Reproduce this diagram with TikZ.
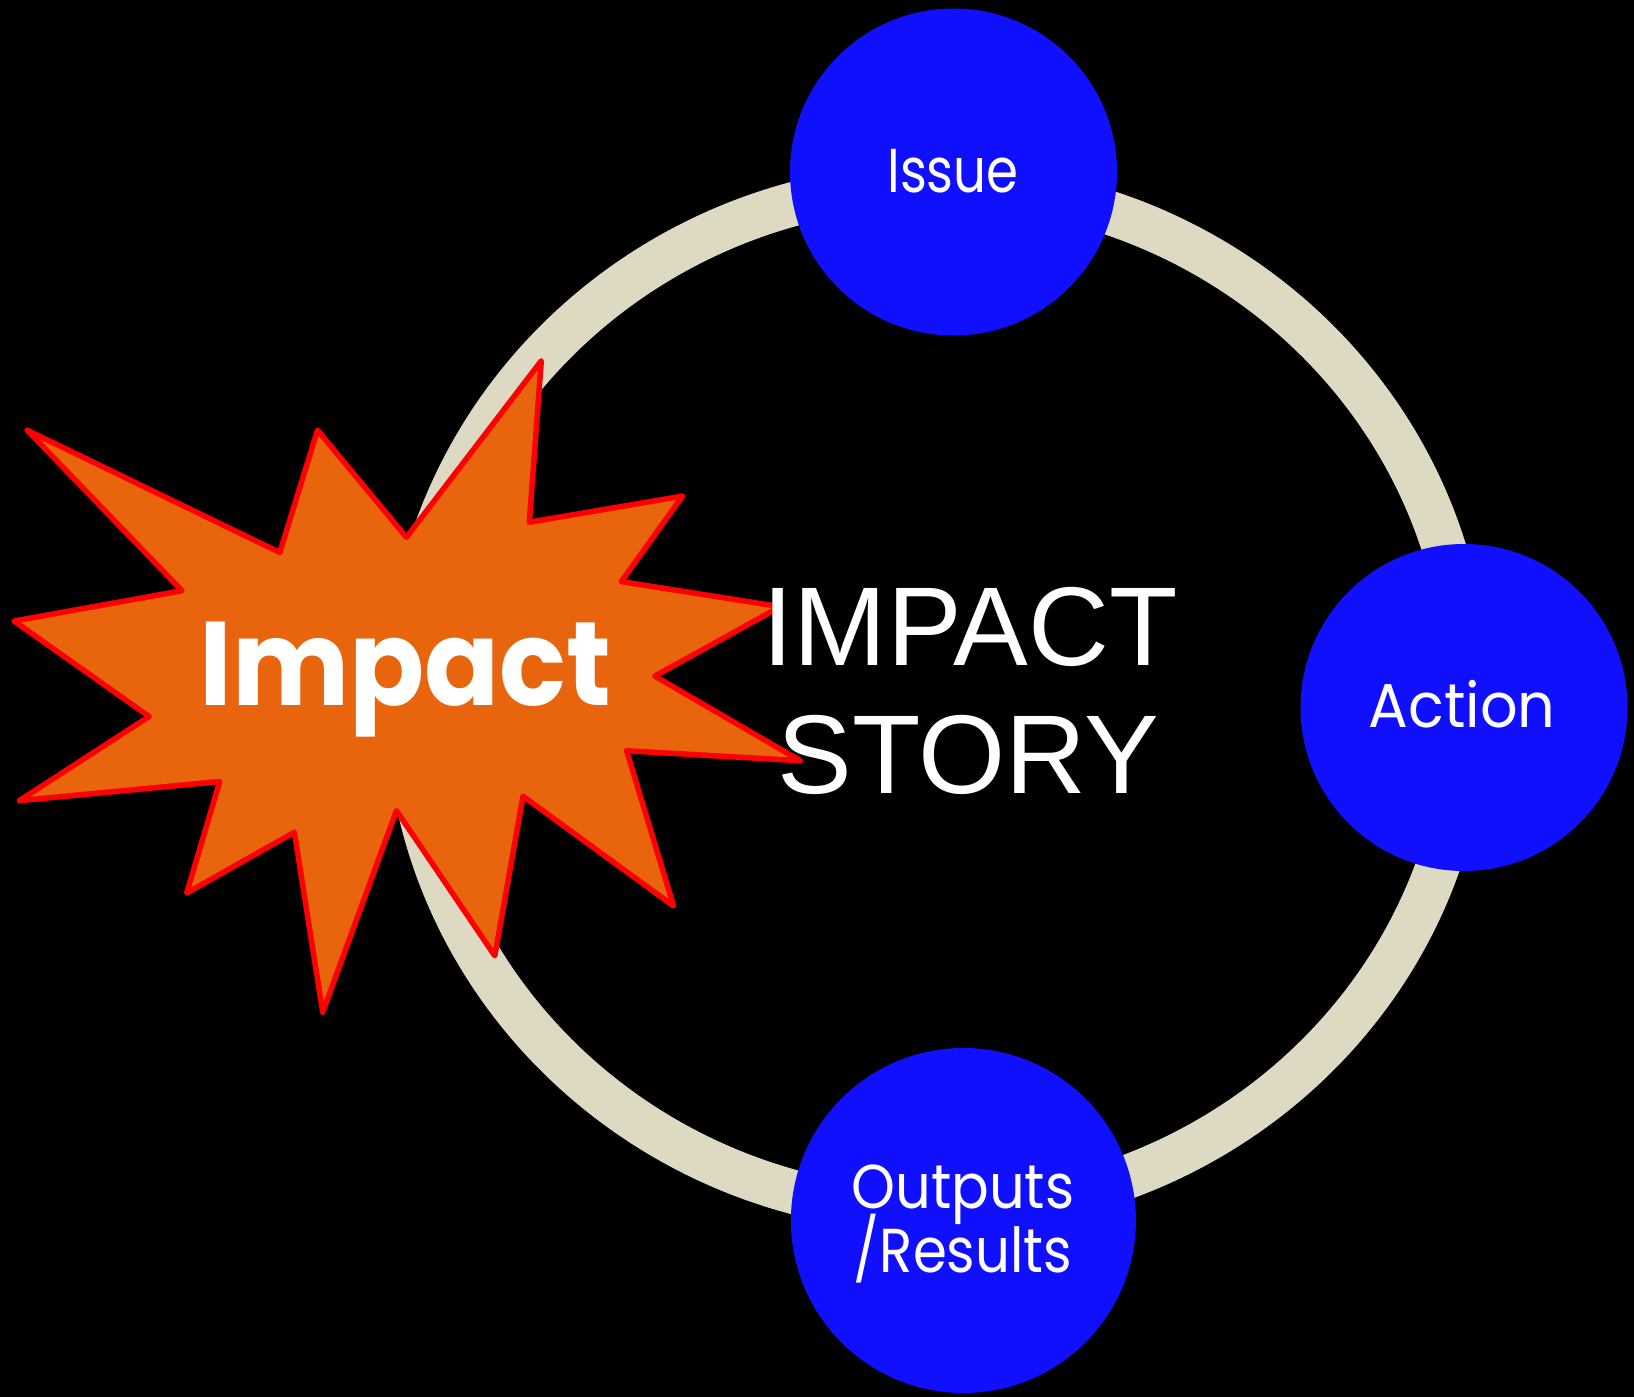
\documentclass[tikz,border=0pt]{standalone}
\usepackage{fontspec}
\usepackage{graphicx}
\newfontfamily\popfont{Poppins}
\newfontfamily\arialfont{Liberation Sans}
\definecolor{ringc}{HTML}{DDD9C3}
\definecolor{bluec}{HTML}{1010FF}
\definecolor{starfill}{HTML}{E8650E}
\definecolor{starline}{HTML}{FF0000}
\begin{document}
\begin{tikzpicture}[x=1pt,y=-1pt,
  bubble/.style={circle, fill=bluec, draw=none, inner sep=0pt},
  ctext/.style={text=white, inner sep=0pt, anchor=base, font=\popfont\fontsize{62}{64}\selectfont},
  bigtext/.style={text=white, inner sep=0pt, anchor=base, font=\arialfont\fontsize{112}{128}\selectfont},
  burst/.style={fill=starfill, draw=starline, line width=5.5pt, line join=round}]
\fill[black] (0,0) rectangle (1634,1397);
\useasboundingbox (0,0) rectangle (1634,1397);
% ring
\coordinate (ringc) at (937,698);
\draw[ringc, line width=44pt] (ringc) ellipse [x radius=530pt, y radius=513pt];
% bubbles
\node[bubble, minimum size=327pt] (issue) at (953.5,172) {};
\node[bubble, minimum size=327pt] (action) at (1464,707.5) {};
\node[bubble, minimum size=345pt] (outputs) at (963.4,1220.5) {};
\node[ctext] (issuet) at (953,192) {\scalebox{0.83}[1]{Issue}};
\node[ctext] (actiont) at (1462,727) {\scalebox{0.95}[1]{Action}};
\node[ctext] (outputst) at (963,1208) {\scalebox{0.9}[1]{Outputs}};
\node[ctext] (resultst) at (963,1272) {\scalebox{0.88}[1]{/Results}};
% starburst
\draw[burst] (27.2,430.2) -- (279.8,552.5) -- (317.5,430.2) -- (406.4,537.3)
  -- (541.3,360.8) -- (529.3,522.2) -- (682.5,496.1) -- (621.3,581.6)
  -- (780.3,606.7) -- (654.8,676.1) -- (800.2,760.7) -- (626.6,750.7)
  -- (673.6,906.0) -- (523,796.2) -- (494.8,955.8) -- (396.4,810.6)
  -- (322.7,1012.2) -- (294.4,832.2) -- (186.7,893.0) -- (219.7,781.5)
  -- (19.4,800.6) -- (149.1,716.5) -- (14.1,621.0) -- (182,590.7) -- cycle;
\node[text=white, inner sep=0pt, anchor=base, font=\popfont\bfseries\fontsize{119}{121}\selectfont] (impactt) at (405.6,705.6) {\scalebox{0.93}[1]{Impact}};
% title
\node[bigtext] (title1) at (970,665) {IMPACT};
\node[bigtext] (title2) at (968.5,793) {STORY};
\end{tikzpicture}
\end{document}
